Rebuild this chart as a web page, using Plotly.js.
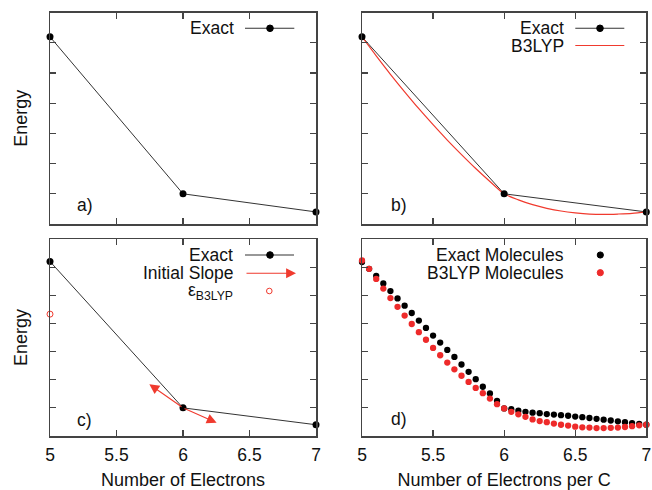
<!DOCTYPE html>
<html>
<head>
<meta charset="utf-8">
<script src="https://cdn.plot.ly/plotly-3.0.1.min.js"></script>
<style>html,body{margin:0;padding:0;background:#fff;}#chart{width:652px;height:490px;}</style>
</head>
<body>
<div id="chart"></div>
<script>
// ---------- data ----------
const electrons = [5, 6, 7];
const exactEnergy = [6.2, 1.0, 0.4];

const b3lypN = [5.0, 5.1, 5.2, 5.3, 5.4, 5.5, 5.6, 5.7, 5.8, 5.9, 6.0,
                6.1, 6.2, 6.3, 6.4, 6.5, 6.6, 6.7, 6.8, 6.9, 7.0];
const b3lypEnergy = [6.2, 5.57, 4.96, 4.38, 3.82, 3.29, 2.78, 2.30, 1.84, 1.41, 1.00,
                     0.80, 0.64, 0.52, 0.43, 0.37, 0.33, 0.32, 0.33, 0.35, 0.40];

const epsN = [5];
const epsEnergy = [4.33];

const slopeFromN = [6, 6];
const slopeFromE = [1.0, 1.0];
const slopeToN = [5.747, 6.253];
const slopeToE = [1.84, 0.47];

const molN = [5.00, 5.05, 5.10, 5.15, 5.20, 5.25, 5.30, 5.35, 5.40, 5.45, 5.50,
              5.55, 5.60, 5.65, 5.70, 5.75, 5.80, 5.85, 5.90, 5.95, 6.00,
              6.05, 6.10, 6.15, 6.20, 6.25, 6.30, 6.35, 6.40, 6.45, 6.50,
              6.55, 6.60, 6.65, 6.70, 6.75, 6.80, 6.85, 6.90, 6.95, 7.00];
const exactMol = [6.18, 5.94, 5.69, 5.42, 5.15, 4.89, 4.63, 4.37, 4.10, 3.84, 3.57,
                  3.32, 3.06, 2.81, 2.54, 2.28, 2.02, 1.75, 1.51, 1.25, 0.98,
                  0.95, 0.90, 0.86, 0.83, 0.81, 0.78, 0.76, 0.74, 0.72, 0.69,
                  0.67, 0.64, 0.61, 0.58, 0.55, 0.52, 0.49, 0.46, 0.43, 0.40];
const b3lypMol = [6.24, 5.94, 5.58, 5.24, 4.90, 4.59, 4.28, 3.98, 3.69, 3.42, 3.13,
                  2.87, 2.61, 2.37, 2.14, 1.92, 1.71, 1.52, 1.33, 1.13, 0.98,
                  0.86, 0.77, 0.68, 0.59, 0.53, 0.49, 0.44, 0.40, 0.37, 0.33,
                  0.31, 0.30, 0.28, 0.28, 0.29, 0.30, 0.32, 0.35, 0.38, 0.40];

const xTicks = [5, 5.5, 6, 6.5, 7];
const xTickText = ['5', '5.5', '6', '6.5', '7'];
const panelLabels = ['a)', 'b)', 'c)', 'd)'];

// ---------- styling helpers ----------
const W = 652, H = 490;
const px = x => x / W;
const py = y => 1 - y / H;
const FONT = 'Liberation Sans, Arial, Helvetica, sans-serif';
const BLACK = '#333333';
const RED = '#f03a2e';
const DOTRED = '#ee2a2a';

const axisBase = {
  showline: true, linecolor: '#444', linewidth: 1.5, mirror: 'ticks',
  ticks: 'inside', ticklen: 6, tickwidth: 1.2, tickcolor: '#444',
  showgrid: false, zeroline: false, fixedrange: true,
  tickfont: {family: FONT, size: 17.5, color: '#111'}
};
function xAxis(dom, anchor, labels, title) {
  const a = Object.assign({}, axisBase, {
    domain: dom, anchor: anchor, range: [5, 7],
    tickvals: xTicks, ticktext: xTickText, showticklabels: labels,
    ticklabelstandoff: 2
  });
  if (title) a.title = {text: title, font: {family: FONT, size: 18, color: '#111'}, standoff: 16};
  return a;
}
function yAxis(dom, anchor, title) {
  const a = Object.assign({}, axisBase, {
    domain: dom, anchor: anchor, range: [0, 7], dtick: 1, tick0: 0,
    showticklabels: false
  });
  if (title) a.title = {text: title, font: {family: FONT, size: 18, color: '#111'}, standoff: 16};
  return a;
}

const colL = [px(50), px(316)], colR = [px(362), px(646.3)];
const rowT = [py(224), py(12.7)], rowB = [py(436), py(239)];

// ---------- traces ----------
const traces = [
  // panel a
  {x: electrons, y: exactEnergy, xaxis: 'x', yaxis: 'y', mode: 'lines+markers',
   line: {color: BLACK, width: 1}, marker: {color: '#000', size: 7}, cliponaxis: false},
  // panel b
  {x: electrons, y: exactEnergy, xaxis: 'x2', yaxis: 'y2', mode: 'lines',
   line: {color: BLACK, width: 1}},
  {x: b3lypN, y: b3lypEnergy, xaxis: 'x2', yaxis: 'y2', mode: 'lines',
   line: {color: RED, width: 1.2, shape: 'spline', smoothing: 0.8}, cliponaxis: false},
  {x: electrons, y: exactEnergy, xaxis: 'x2', yaxis: 'y2', mode: 'markers',
   marker: {color: '#000', size: 7}, cliponaxis: false},
  // panel c
  {x: electrons, y: exactEnergy, xaxis: 'x3', yaxis: 'y3', mode: 'lines+markers',
   line: {color: BLACK, width: 1}, marker: {color: '#000', size: 7}, cliponaxis: false},
  {x: epsN, y: epsEnergy, xaxis: 'x3', yaxis: 'y3', mode: 'markers',
   marker: {symbol: 'circle-open', color: RED, size: 6, line: {width: 1}}, cliponaxis: false},
  // panel d
  {x: molN, y: exactMol, xaxis: 'x4', yaxis: 'y4', mode: 'markers',
   marker: {color: '#000', size: 6.3}, cliponaxis: false},
  {x: molN, y: b3lypMol, xaxis: 'x4', yaxis: 'y4', mode: 'markers',
   marker: {color: DOTRED, size: 6.3}, cliponaxis: false}
];

// ---------- annotations & legend decorations ----------
const txt = (text, x, y, anchor) => ({
  text: text, x: px(x), y: py(y), xref: 'paper', yref: 'paper',
  xanchor: anchor || 'right', yanchor: 'middle', showarrow: false, borderpad: 0,
  font: {family: FONT, size: 17.5, color: '#111'}
});
const annotations = [
  txt('Exact', 235, 28.3),
  txt('Exact', 565, 28.3),
  txt('B3LYP', 565, 45.7),
  txt('Exact', 234, 255),
  txt('Initial Slope', 234, 273.3),
  txt('ε<sub>B3LYP</sub>', 234, 291),
  txt('Exact Molecules', 565, 255),
  txt('B3LYP Molecules', 565, 272.7),
  txt(panelLabels[0], 76, 205, 'left'),
  txt(panelLabels[1], 390, 205, 'left'),
  txt(panelLabels[2], 76, 420, 'left'),
  txt(panelLabels[3], 390, 419, 'left'),
  // legend arrow sample
  {x: px(296), y: py(273.3), xref: 'paper', yref: 'paper', ax: -51, ay: 0,
   showarrow: true, text: '', arrowhead: 2, arrowsize: 1.8, arrowwidth: 1.1, arrowcolor: RED}
];
for (let i = 0; i < slopeToN.length; i++) {
  annotations.push({
    x: slopeToN[i], y: slopeToE[i], ax: slopeFromN[i], ay: slopeFromE[i],
    xref: 'x3', yref: 'y3', axref: 'x3', ayref: 'y3',
    showarrow: true, text: '', arrowhead: 2, arrowsize: 1.8, arrowwidth: 1.1, arrowcolor: RED
  });
}

const lineShape = (x0, x1, y, color) => ({type: 'line', xref: 'paper', yref: 'paper',
  x0: px(x0), x1: px(x1), y0: py(y), y1: py(y), line: {color: color, width: 1.1}});
const dotShape = (cx, cy, r, fill, lineColor) => ({type: 'circle', xref: 'paper', yref: 'paper',
  x0: px(cx - r), x1: px(cx + r), y0: py(cy + r), y1: py(cy - r),
  fillcolor: fill, line: {color: lineColor, width: 1}});
const shapes = [
  lineShape(245, 294.3, 28.3, BLACK), dotShape(270, 28.3, 3.3, '#000', '#000'),
  lineShape(575.3, 624.3, 28.3, BLACK), dotShape(600, 28.3, 3.3, '#000', '#000'),
  lineShape(575.3, 624.3, 45.5, RED),
  lineShape(245, 294, 255, BLACK), dotShape(270, 255, 3.3, '#000', '#000'),
  dotShape(269.3, 291, 2.8, 'rgba(0,0,0,0)', RED),
  dotShape(600.3, 255, 3.1, '#000', '#000'),
  dotShape(600.3, 272.7, 3.1, DOTRED, DOTRED)
];

const layout = {
  width: W, height: H,
  margin: {l: 0, r: 0, t: 0, b: 0},
  paper_bgcolor: '#fff', plot_bgcolor: '#fff',
  showlegend: false,
  font: {family: FONT, color: '#111'},
  xaxis: xAxis(colL, 'y', false, null),
  yaxis: yAxis(rowT, 'x', 'Energy'),
  xaxis2: xAxis(colR, 'y2', false, null),
  yaxis2: yAxis(rowT, 'x2', null),
  xaxis3: xAxis(colL, 'y3', true, 'Number of Electrons'),
  yaxis3: yAxis(rowB, 'x3', 'Energy'),
  xaxis4: xAxis(colR, 'y4', true, 'Number of Electrons per C'),
  yaxis4: yAxis(rowB, 'x4', null),
  annotations: annotations,
  shapes: shapes
};

Plotly.newPlot('chart', traces, layout, {staticPlot: true, displayModeBar: false});
</script>
</body>
</html>
